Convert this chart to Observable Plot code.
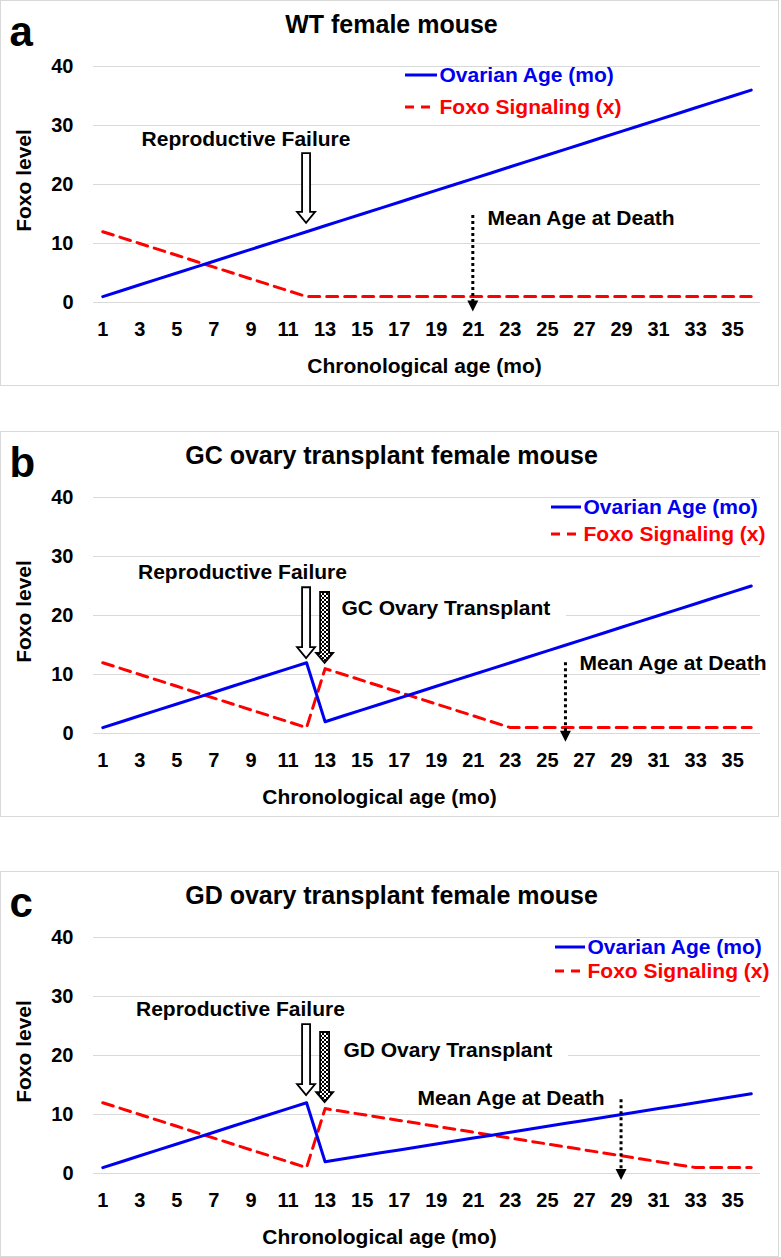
<!DOCTYPE html>
<html><head><meta charset="utf-8">
<script src="https://cdn.jsdelivr.net/npm/d3@7"></script>
<script src="https://cdn.jsdelivr.net/npm/@observablehq/plot@0.6"></script>
<style>
html,body{margin:0;padding:0;background:#fff;}
#root{position:relative;width:781px;height:1257px;overflow:hidden;}
.panel{position:absolute;left:0;width:779px;height:386px;}
.panel svg{display:block;outline:1px solid #d9d9d9;outline-offset:-1px;}
</style></head><body><div id="root"></div>
<script>
const FONT = "'Liberation Sans', Arial, Helvetica, sans-serif";

// ---- categories / ticks ----
const ages = [1,2,3,4,5,6,7,8,9,10,11,12,13,14,15,16,17,18,19,20,21,22,23,24,25,26,27,28,29,30,31,32,33,34,35,36];
const xTicks = [1,3,5,7,9,11,13,15,17,19,21,23,25,27,29,31,33,35];
const yTicks = [0,10,20,30,40];
const seriesNames = ["Ovarian Age (mo)", "Foxo Signaling (x)"];
const panelLetters = ["a", "b", "c"];
const panelTitles = ["WT female mouse", "GC ovary transplant female mouse", "GD ovary transplant female mouse"];
const xAxisLabel = "Chronological age (mo)";
const yAxisLabel = "Foxo level";

// ---- series values ----
const ovarianA = [1,2,3,4,5,6,7,8,9,10,11,12,13,14,15,16,17,18,19,20,21,22,23,24,25,26,27,28,29,30,31,32,33,34,35,36];
const foxoA    = [12,11,10,9,8,7,6,5,4,3,2,1,1,1,1,1,1,1,1,1,1,1,1,1,1,1,1,1,1,1,1,1,1,1,1,1];
const ovarianB = [1,2,3,4,5,6,7,8,9,10,11,12,2,3,4,5,6,7,8,9,10,11,12,13,14,15,16,17,18,19,20,21,22,23,24,25];
const foxoB    = [12,11,10,9,8,7,6,5,4,3,2,1,11,10,9,8,7,6,5,4,3,2,1,1,1,1,1,1,1,1,1,1,1,1,1,1];
const ovarianC = [1,2,3,4,5,6,7,8,9,10,11,12,2,2.5,3,3.5,4,4.5,5,5.5,6,6.5,7,7.5,8,8.5,9,9.5,10,10.5,11,11.5,12,12.5,13,13.5];
const foxoC    = [12,11,10,9,8,7,6,5,4,3,2,1,11,10.5,10,9.5,9,8.5,8,7.5,7,6.5,6,5.5,5,4.5,4,3.5,3,2.5,2,1.5,1,1,1,1];

// ---- annotations (data coordinates) ----
const failureText = "Reproductive Failure";
const deathText = "Mean Age at Death";
const transplantTexts = [null, "GC Ovary Transplant", "GD Ovary Transplant"];
const failureNotes = [
  {tx: 8.73, ty: 27.6, ax: 12, yTop: 25.25, yTip: 13.4},
  {tx: 8.54, ty: 27.3, ax: 12, yTop: 24.7, yTip: 12.7},
  {tx: 8.43, ty: 27.8, ax: 12, yTop: 25.25, yTip: 13.2}
];
const transplantNotes = [
  null,
  {tx: 13.88, ty: 21.2, ax: 13, yTop: 23.9, yTip: 11.9},
  {tx: 13.99, ty: 20.85, ax: 13, yTop: 23.9, yTip: 12.0}
];
const deathNotes = [
  {tx: 21.77, ty: 14.2, ax: 21, yTop: 14.75, yTip: -1.6},
  {tx: 26.73, ty: 11.86, ax: 26, yTop: 12.0, yTip: -1.5},
  {tx: 17.99, ty: 12.7, ax: 29, yTop: 12.5, yTip: -1.2}
];

// ---- layout (pixels) ----
const layouts = [
  {top: 0,   xLabelX: 424, legend: {x0: 405, x1: 437, tx: 439, yBlue: 75, yRed: 107}},
  {top: 431, xLabelX: 379, legend: {x0: 551, x1: 581, tx: 583, yBlue: 76, yRed: 103}},
  {top: 871, xLabelX: 379, legend: {x0: 555, x1: 585, tx: 587, yBlue: 76, yRed: 100}}
];
const BLUE = "#0000f0", RED = "#ff0000";
const RED_DASH = "11 7";
const W = 779, H = 386, ML = 93, MR = 19, MT = 66, MB = 84;

const seriesByPanel = [[ovarianA, foxoA], [ovarianB, foxoB], [ovarianC, foxoC]];

const measureCtx = document.createElement("canvas").getContext("2d");
function textWidth(s, size) {
  measureCtx.font = `bold ${size}px 'Liberation Sans', Arial, sans-serif`;
  return measureCtx.measureText(s).width;
}

function blockArrow(g, cx, yTop, yTip, shaftW, headW, headH, fill) {
  const s = shaftW / 2, h = headW / 2, yh = yTip - headH;
  const pts = [[cx - s, yTop], [cx + s, yTop], [cx + s, yh], [cx + h, yh], [cx, yTip], [cx - h, yh], [cx - s, yh]];
  g.append("polygon").attr("points", pts.map(p => p.join(",")).join(" "))
    .attr("fill", fill).attr("stroke", "black").attr("stroke-width", 1.8).attr("stroke-linejoin", "miter");
}
function dottedArrow(g, cx, yTop, yTip) {
  g.append("line").attr("x1", cx).attr("x2", cx).attr("y1", yTop).attr("y2", yTip - 10)
    .attr("stroke", "black").attr("stroke-width", 3).attr("stroke-dasharray", "3 3");
  g.append("polygon").attr("points", `${cx - 5.5},${yTip - 11} ${cx + 5.5},${yTip - 11} ${cx},${yTip}`).attr("fill", "black");
}

function panel(i) {
  const L = layouts[i];
  const [ov, fx] = seriesByPanel[i];
  const rows = ages.map((a, k) => ({age: a, ovarian: ov[k], foxo: fx[k]}));
  const fn = failureNotes[i], tn = transplantNotes[i], dn = deathNotes[i];
  const pid = "chk" + i;

  const background = (index, scales) => {
    const g = d3.create("svg:g");
    if (tn) {
      const X = scales.x, Y = scales.y;
      const w = textWidth(transplantTexts[i], 21);
      g.append("rect").attr("x", X(tn.tx) - 14).attr("y", Y(tn.ty) - 14)
        .attr("width", w + 30).attr("height", 30).attr("fill", "white");
    }
    return g.node();
  };

  const overlay = (index, scales) => {
    const X = scales.x, Y = scales.y;
    const g = d3.create("svg:g");
    const defs = g.append("defs");
    const pat = defs.append("pattern").attr("id", pid).attr("patternUnits", "userSpaceOnUse")
      .attr("width", 4).attr("height", 4);
    pat.append("rect").attr("width", 4).attr("height", 4).attr("fill", "white");
    pat.append("rect").attr("width", 2).attr("height", 2).attr("fill", "black");
    pat.append("rect").attr("x", 2).attr("y", 2).attr("width", 2).attr("height", 2).attr("fill", "black");
    blockArrow(g, X(fn.ax), Y(fn.yTop), Y(fn.yTip), 8, 18, 11, "white");
    if (tn) blockArrow(g, X(tn.ax), Y(tn.yTop), Y(tn.yTip), 9, 17, 10, `url(#${pid})`);
    dottedArrow(g, X(dn.ax), Y(dn.yTop), Y(dn.yTip));
    // legend samples
    const lg = L.legend;
    g.append("line").attr("x1", lg.x0).attr("x2", lg.x1).attr("y1", lg.yBlue).attr("y2", lg.yBlue)
      .attr("stroke", BLUE).attr("stroke-width", 3);
    g.append("line").attr("x1", lg.x0).attr("x2", lg.x1).attr("y1", lg.yRed).attr("y2", lg.yRed)
      .attr("stroke", RED).attr("stroke-width", 3).attr("stroke-dasharray", "9 7");
    return g.node();
  };

  const frameText = (s, px, py, opts = {}) => Plot.text([s], {
    frameAnchor: "top-left", text: d => d, dx: px - ML, dy: py - MT,
    lineAnchor: "middle", fontWeight: "bold", fill: "black", ...opts
  });

  const svg = Plot.plot({
    width: W, height: H, marginLeft: ML, marginRight: MR, marginTop: MT, marginBottom: MB,
    x: {type: "linear", domain: [0.5, 36.5]},
    y: {type: "linear", domain: [0, 40]},
    style: {fontFamily: FONT, fontWeight: "bold", background: "white", overflow: "visible"},
    marks: [
      Plot.gridY(yTicks, {stroke: "#d9d9d9", strokeOpacity: 1, strokeWidth: 1}),
      background,
      Plot.axisY(yTicks, {tickSize: 0, tickPadding: 20, fontSize: 20, fontWeight: "bold", label: null, fill: "black"}),
      Plot.axisX(xTicks, {tickSize: 0, tickPadding: 19, fontSize: 20, fontWeight: "bold", label: null, fill: "black", tickFormat: d => String(d)}),
      Plot.lineY(rows, {x: "age", y: "foxo", stroke: RED, strokeWidth: 3, strokeDasharray: RED_DASH}),
      Plot.lineY(rows, {x: "age", y: "ovarian", stroke: BLUE, strokeWidth: 3}),
      overlay,
      Plot.text([failureText], {x: () => fn.tx, y: () => fn.ty, text: d => d, fontSize: 21, fontWeight: "bold", fill: "black", textAnchor: "middle", lineAnchor: "middle"}),
      Plot.text([deathText], {x: () => dn.tx, y: () => dn.ty, text: d => d, fontSize: 21, fontWeight: "bold", fill: "black", textAnchor: "start", lineAnchor: "middle"}),
      tn ? Plot.text([transplantTexts[i]], {x: () => tn.tx, y: () => tn.ty, text: d => d, fontSize: 21, fontWeight: "bold", fill: "black", textAnchor: "start", lineAnchor: "middle"}) : null,
      frameText(panelTitles[i], 391, 24, {fontSize: 25, textAnchor: "middle"}),
      frameText(panelLetters[i], 9, 31.6, {fontSize: 42, textAnchor: "start"}),
      frameText(xAxisLabel, L.xLabelX, 366, {fontSize: 21, textAnchor: "middle"}),
      frameText(yAxisLabel, 23.5, 180, {fontSize: 21, textAnchor: "middle", rotate: -90}),
      frameText(seriesNames[0], L.legend.tx, L.legend.yBlue, {fontSize: 21, textAnchor: "start", fill: BLUE}),
      frameText(seriesNames[1], L.legend.tx, L.legend.yRed, {fontSize: 21, textAnchor: "start", fill: RED})
    ]
  });
  const div = document.createElement("div");
  div.className = "panel";
  div.style.top = L.top + "px";
  div.appendChild(svg);
  document.getElementById("root").appendChild(div);
}

[0, 1, 2].forEach(panel);
</script>
</body></html>
